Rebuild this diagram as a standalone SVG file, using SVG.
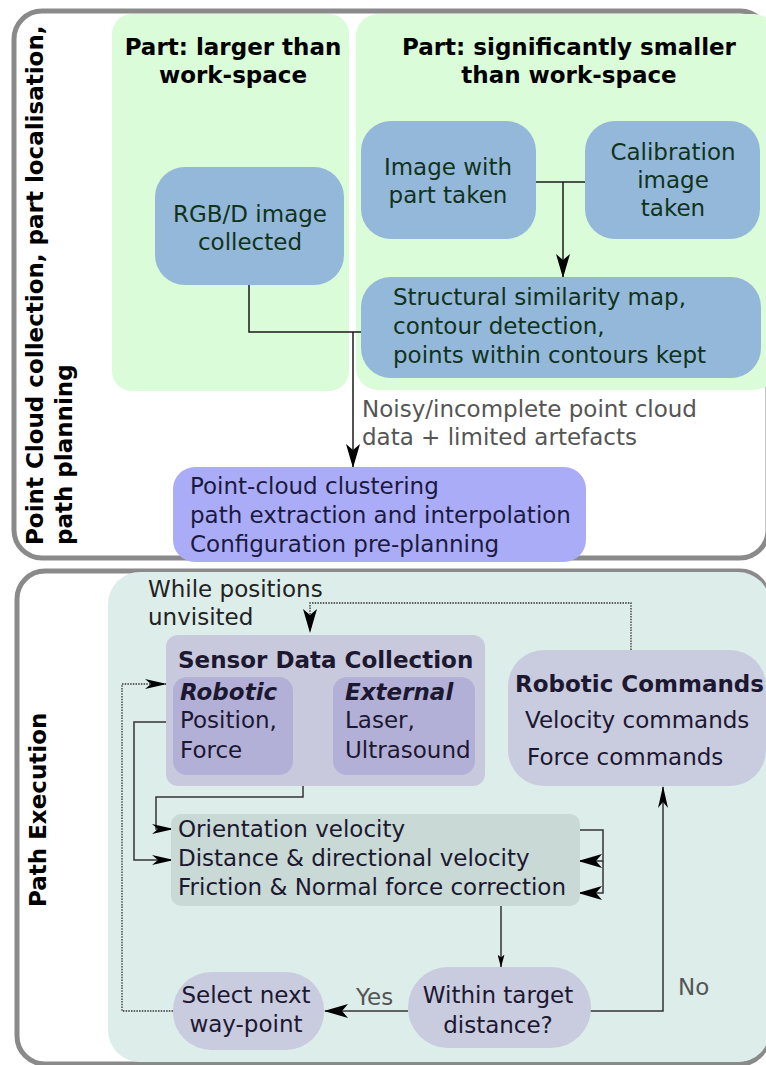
<svg xmlns="http://www.w3.org/2000/svg" width="766" height="1065" viewBox="0 0 766 1065">
<style>
text{font-family:"DejaVu Sans","Verdana",sans-serif;font-size:23px}
.hd{font-weight:bold;fill:#000}
.g{fill:#10331a}
.n{fill:#1c1830}
.lbl{fill:#555}
.c{text-anchor:middle}
.b{font-weight:bold}
.bi{font-weight:bold;font-style:italic}
.ln{fill:none;stroke:#1a1a1a;stroke-width:1.5}
.ln2{fill:none;stroke:#333;stroke-width:1.5}
.dot{fill:none;stroke:#333;stroke-width:1.3;stroke-dasharray:1.5 1.2}
.panel{fill:#fff;stroke:#8a8a8a;stroke-width:5}
.blue{fill:#94b8da}
.lav{fill:#c9cbdf}
</style>
<defs>
<marker id="big" viewBox="0 0 24 14" refX="23" refY="7" markerWidth="24" markerHeight="14" markerUnits="userSpaceOnUse" orient="auto"><path d="M0,0 L24,7 L0,14 L6,7 Z" fill="#000"/></marker>
<marker id="mid" viewBox="0 0 22 10" refX="21" refY="5" markerWidth="22" markerHeight="10" markerUnits="userSpaceOnUse" orient="auto"><path d="M0,0 L22,5 L0,10 L6,5 Z" fill="#000"/></marker>
<marker id="sm" viewBox="0 0 13 7" refX="12.5" refY="3.5" markerWidth="13" markerHeight="7" markerUnits="userSpaceOnUse" orient="auto"><path d="M0,0 L13,3.5 L0,7 L3,3.5 Z" fill="#000"/></marker>
</defs>

<g id="panel1">
<rect class="panel" x="14" y="11" width="754" height="547" rx="28"/>
<text class="hd" transform="translate(43,545) rotate(-90)">Point Cloud collection, part localisation,</text>
<text class="hd" transform="translate(72,545) rotate(-90)">path planning</text>
</g>
<g id="group-larger">
<rect x="112" y="14" width="237" height="377" rx="20" fill="#dbfcd8"/>
<text class="hd c" x="233" y="55">Part: larger than</text>
<text class="hd c" x="233" y="83">work-space</text>
</g>
<g id="group-smaller">
<rect x="356" y="14" width="420" height="376" rx="22" fill="#dbfcd8"/>
<text class="hd c" x="569" y="55">Part: significantly smaller</text>
<text class="hd c" x="569" y="83">than work-space</text>
</g>

<g id="panel2">
<rect class="panel" x="17" y="571" width="751" height="493" rx="28"/>
<rect x="108" y="572" width="662" height="490" rx="32" fill="#ddedea"/>
<text class="hd" transform="translate(46,907) rotate(-90)">Path Execution</text>
<text x="148" y="597" fill="#222">While positions</text>
<text x="148" y="625" fill="#222">unvisited</text>
</g>

<g id="connectors">
<path class="ln" d="M563,182 V277" marker-end="url(#big)"/>
<path class="ln" d="M536,182 H585"/>
<path class="ln" d="M249,285 V332 H361"/>
<path class="ln" d="M353,332 V467" marker-end="url(#big)"/>
<path class="dot" d="M631,650 V603 H310 V632" marker-end="url(#big)"/>
<path class="dot" d="M173,1011 H122 V684 H166" marker-end="url(#mid)"/>
<path class="ln2" d="M166,722 H134 V860 H173" marker-end="url(#mid)"/>
<path class="ln2" d="M333,720 H303 V797 H156 V829 H173" marker-end="url(#mid)"/>
<path class="ln2" d="M580,830 H603 V861 H579" marker-end="url(#big)"/>
<path class="ln2" d="M603,861 V893 H579" marker-end="url(#big)"/>
<path class="ln2" d="M501,906 V967" marker-end="url(#sm)"/>
<path class="ln2" d="M408,1011 H325" marker-end="url(#big)"/>
<path class="ln2" d="M590,1011 H663 V787" marker-end="url(#mid)"/>
</g>

<g id="labels">
<text class="lbl" x="362" y="417">Noisy/incomplete point cloud</text>
<text class="lbl" x="362" y="445">data + limited artefacts</text>
<text class="lbl" x="356" y="1005">Yes</text>
<text class="lbl" x="678" y="995">No</text>
</g>

<g id="node-rgbd">
<rect class="blue" x="155" y="167" width="189" height="118" rx="30"/>
<text class="g c" x="250" y="222">RGB/D image</text>
<text class="g c" x="250" y="250">collected</text>
</g>
<g id="node-image-part">
<rect class="blue" x="361" y="121" width="175" height="118" rx="30"/>
<text class="g c" x="448" y="175">Image with</text>
<text class="g c" x="448" y="203">part taken</text>
</g>
<g id="node-calibration">
<rect class="blue" x="585" y="121" width="175" height="118" rx="30"/>
<text class="g c" x="673" y="160">Calibration</text>
<text class="g c" x="673" y="188">image</text>
<text class="g c" x="673" y="216">taken</text>
</g>
<g id="node-ssim">
<rect class="blue" x="361" y="277" width="400" height="101" rx="30"/>
<text class="g" x="393" y="305">Structural similarity map,</text>
<text class="g" x="393" y="334">contour detection,</text>
<text class="g" x="393" y="363">points within contours kept</text>
</g>
<g id="node-pointcloud">
<rect x="173" y="467" width="413" height="95" rx="22" fill="#abacf7"/>
<text x="190" y="494" fill="#1a1a40">Point-cloud clustering</text>
<text x="190" y="523" fill="#1a1a40">path extraction and interpolation</text>
<text x="190" y="552" fill="#1a1a40">Configuration pre-planning</text>
</g>

<g id="node-sensor">
<rect x="166" y="635" width="319" height="151" rx="12" fill="#c8c9dd"/>
<text class="n b" x="178" y="668">Sensor Data Collection</text>
</g>
<g id="node-robotic">
<rect x="173" y="677" width="120" height="98" rx="14" fill="#b3b0d7"/>
<text class="n bi" x="180" y="700">Robotic</text>
<text class="n" x="180" y="728">Position,</text>
<text class="n" x="180" y="758">Force</text>
</g>
<g id="node-external">
<rect x="333" y="677" width="142" height="98" rx="14" fill="#b3b0d7"/>
<text class="n bi" x="345" y="700">External</text>
<text class="n" x="345" y="728">Laser,</text>
<text class="n" x="345" y="758">Ultrasound</text>
</g>
<g id="node-commands">
<rect class="lav" x="508" y="650" width="258" height="136" rx="36"/>
<text class="n b" x="515" y="692">Robotic Commands</text>
<text class="n" x="525" y="728">Velocity commands</text>
<text class="n" x="527" y="765">Force commands</text>
</g>
<g id="node-control">
<rect x="171" y="814" width="409" height="92" rx="10" fill="#c9d9d5"/>
<text class="n" x="178" y="837">Orientation velocity</text>
<text class="n" x="178" y="866">Distance &amp; directional velocity</text>
<text class="n" x="178" y="895">Friction &amp; Normal force correction</text>
</g>
<g id="node-within">
<rect class="lav" x="408" y="967" width="183" height="81" rx="40"/>
<text class="n c" x="498" y="1003">Within target</text>
<text class="n c" x="498" y="1033">distance?</text>
</g>
<g id="node-select">
<rect class="lav" x="173" y="972" width="151" height="78" rx="38"/>
<text class="n c" x="246" y="1003">Select next</text>
<text class="n c" x="246" y="1032">way-point</text>
</g>
</svg>
